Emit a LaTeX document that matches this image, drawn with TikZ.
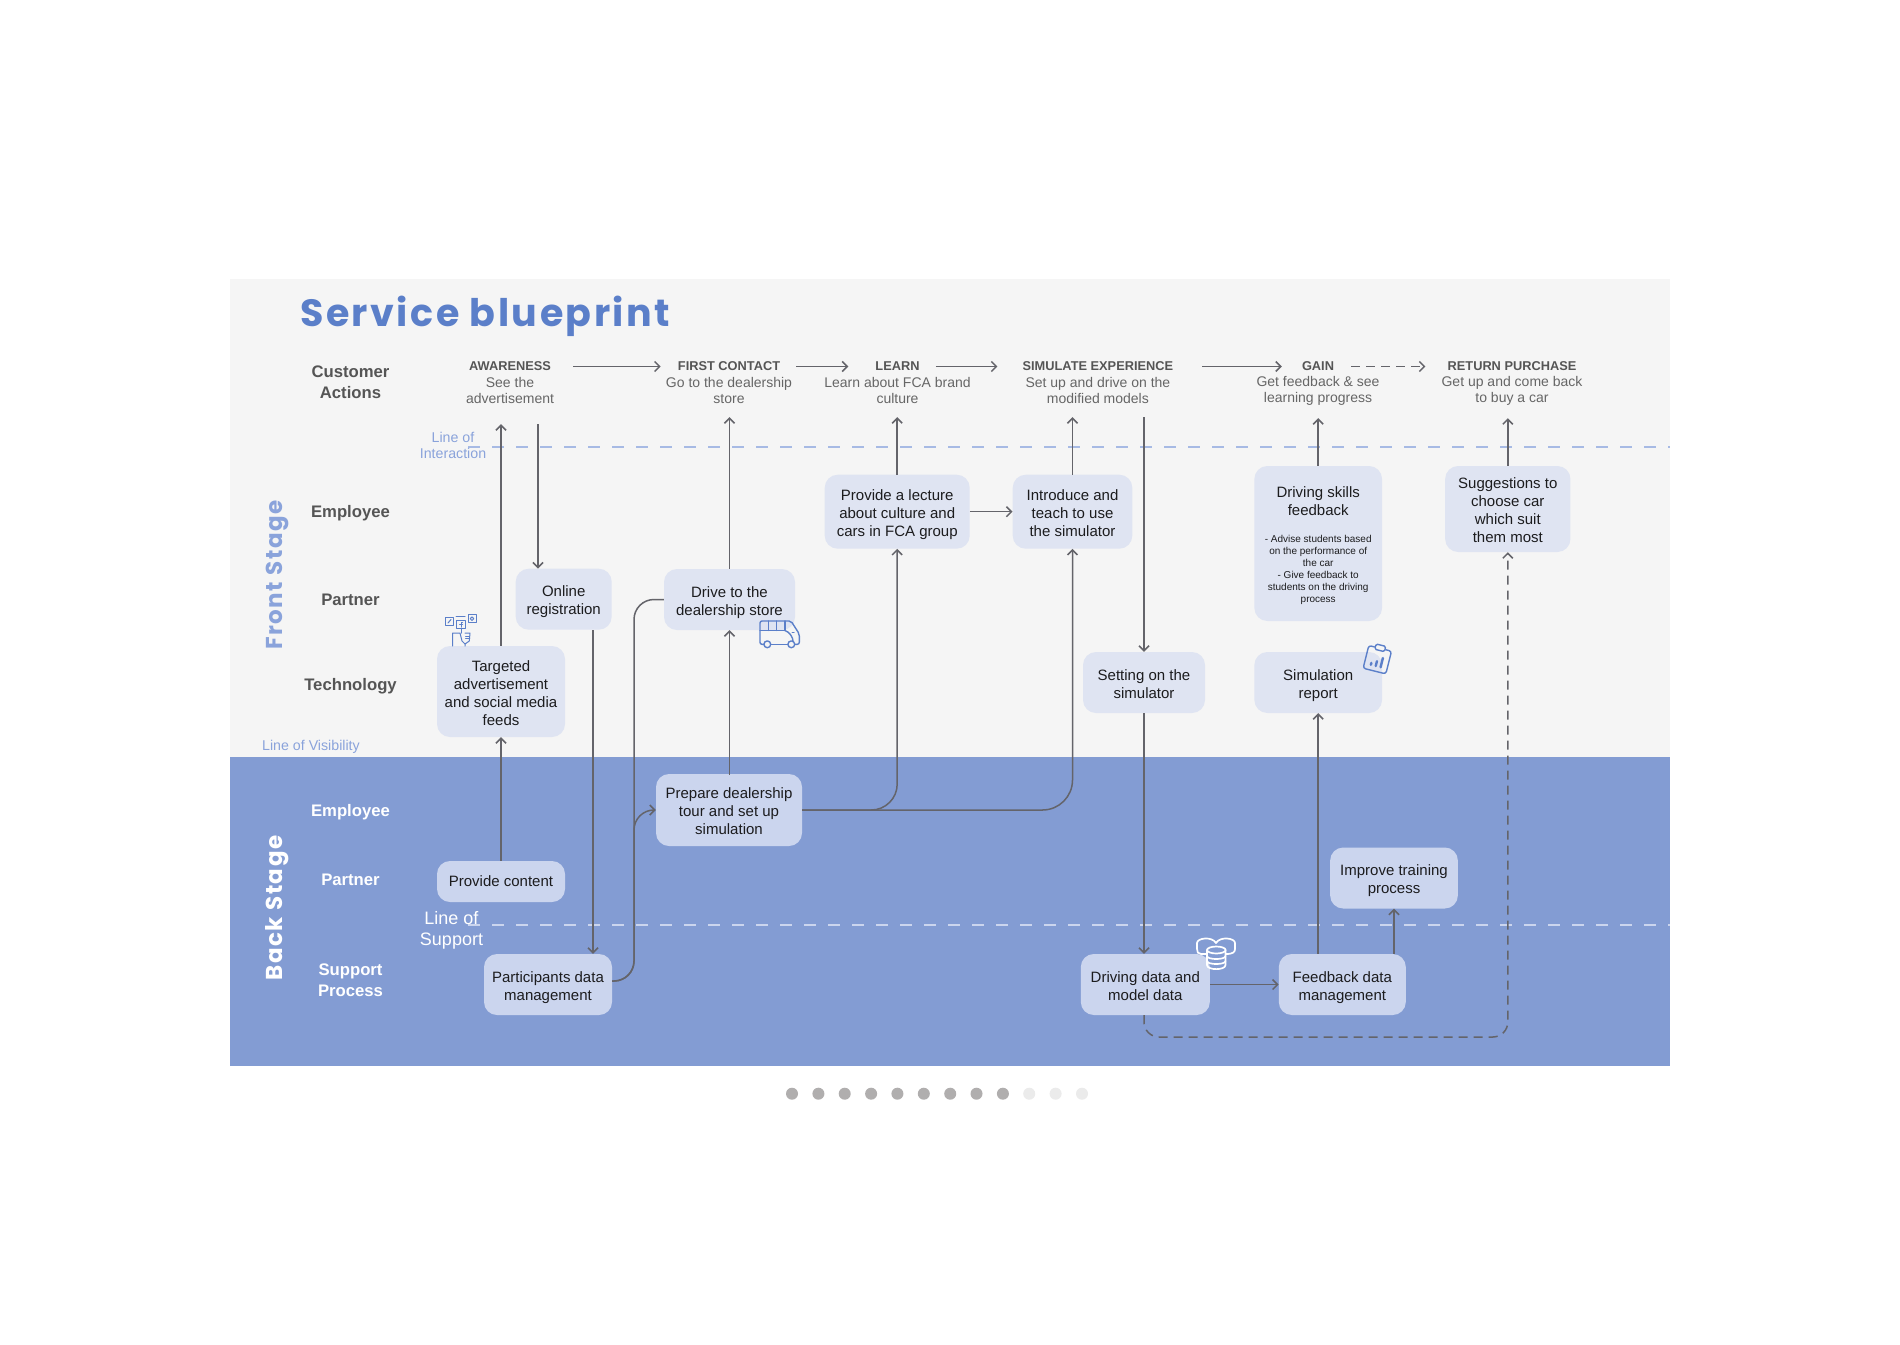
\documentclass[tikz,border=0pt]{standalone}
\usepackage{fontspec}
\usepackage{xcolor}
\usepackage{tikz}
\usetikzlibrary{positioning, arrows.meta, calc}
\setmainfont{Liberation Sans}
\newfontfamily\titlefont{Poppins}[LetterSpace=6.5]
\definecolor{bpTitle}{RGB}{91, 127, 201}
\definecolor{bpBack}{RGB}{131, 156, 211}
\definecolor{bpPanel}{RGB}{245, 245, 245}
\definecolor{bpCard}{RGB}{223, 228, 242}
\definecolor{bpBackCard}{RGB}{203, 213, 238}
\definecolor{bpLabel}{RGB}{138, 163, 219}
\definecolor{bpGray}{RGB}{85, 85, 85}
\definecolor{bpSub}{RGB}{102, 102, 102}
\definecolor{bpFlow}{RGB}{100, 100, 106}
\definecolor{bpInk}{RGB}{28, 28, 30}
\definecolor{bpDot}{RGB}{176, 174, 174}
\definecolor{bpDotLight}{RGB}{235, 235, 235}
\tikzset{
    card/.style={
        rectangle,
        rounded corners=13pt,
        fill=bpCard,
        text=bpInk,
        align=center,
        inner sep=0pt,
        font=\fontsize{15}{18}\selectfont
    },
    backcard/.style={
        card,
        fill=bpBackCard
    },
    lift/.style={
        execute at begin node={\rule{0pt}{#1pt}},
        execute at end node={\rule[-4pt]{0pt}{4pt}}
    },
    twolines/.style={lift=35},
    threelines/.style={lift=53},
    fourlines/.style={lift=71},
    lane/.style={
        align=center,
        inner sep=0pt,
        text=bpGray,
        font=\fontsize{16.7}{20.7}\selectfont\bfseries
    },
    backlane/.style={
        lane,
        text=white
    },
    stagetitle/.style={
        inner sep=0pt,
        text=bpGray,
        font=\fontsize{12.8}{16}\selectfont\bfseries
    },
    stagesub/.style={
        align=center,
        inner sep=0pt,
        minimum height=54pt,
        text=bpSub,
        font=\fontsize{14}{16}\selectfont
    },
    bandlabel/.style={
        inner sep=0pt,
        rotate=90,
        font=\fontsize{23}{26}\titlefont\bfseries
    },
    lineof/.style={
        align=center,
        inner sep=0pt,
        text=bpLabel,
        font=\fontsize{14.2}{16}\selectfont
    },
    flow/.style={
        ->,
        >={Straight Barb[length=5pt,width=10pt]},
        line width=1.5pt,
        color=bpFlow
    },
    plainflow/.style={
        line width=1.5pt,
        color=bpFlow
    },
    dashflow/.style={
        flow,
        dash pattern=on 9pt off 6pt
    },
    divider/.style={
        line width=1.5pt,
        dash pattern=on 12pt off 12pt
    },
    icon/.style={
        draw=bpTitle,
        line width=1.4pt,
        line cap=round,
        line join=round
    },
    whiteicon/.style={
        icon,
        draw=white,
        line width=1.7pt
    }
}
\begin{document}
\begin{tikzpicture}[x=1pt, y=-1pt]
    \useasboundingbox (0,0) rectangle (1900,1344);
    \fill[white] (0,0) rectangle (1900,1344);

    % Bands
    \fill[bpPanel] (230,279) rectangle (1670,757);
    \fill[bpBack] (230,757) rectangle (1670,1066);

    % Dividers
    \draw[divider, bpLabel!75!white] (468,447) -- (1670,447);
    \draw[divider, bpBackCard] (468,925) -- (1670,925);

    % Title
    \node[anchor=base west, inner sep=0pt, text=bpTitle, font=\fontsize{38}{44}\titlefont\bfseries] (title) at (300,326.5) {Service blueprint};
    \node[bandlabel, text=bpLabel] (frontstage) at (277,575) {Front Stage};
    \node[bandlabel, text=white] (backstage) at (277,908) {Back Stage};

    % Lanes
    \node[lane] (customer) at (350.5,382) {Customer\\Actions};
    \node[lane] (employee) at (350.5,513) {Employee};
    \node[lane] (partner) at (350.5,600) {Partner};
    \node[lane] (technology) at (350.5,686) {Technology};
    \node[backlane] (backemployee) at (350.5,812) {Employee};
    \node[backlane] (backpartner) at (350.5,880) {Partner};
    \node[backlane] (support) at (350.5,980.5) {Support\\Process};

    % Line labels
    \node[lineof] (interaction) at (453,445) {Line of\\Interaction};
    \node[lineof] (visibility) at (311,747) {Line of Visibility};
    \node[lineof, text=white, font=\fontsize{18}{21}\selectfont] (supportline) at (451.5,930.5) {Line of\\Support};

    % Stages
    \node[stagetitle] (awareness) at (510,366.5) {AWARENESS};
    \node[stagesub] (awarenesssub) at (510,390) {See the\\advertisement};
    \node[stagetitle] (firstcontact) at (729,366.5) {FIRST CONTACT};
    \node[stagesub] (firstcontactsub) at (729,390) {Go to the dealership\\store};
    \node[stagetitle] (learn) at (897.5,366.5) {LEARN};
    \node[stagesub] (learnsub) at (897.5,390) {Learn about FCA brand\\culture};
    \node[stagetitle] (simulate) at (1097.9,366.5) {SIMULATE EXPERIENCE};
    \node[stagesub] (simulatesub) at (1097.9,390) {Set up and drive on the\\modified models};
    \node[stagetitle] (gain) at (1318,366.5) {GAIN};
    \node[stagesub] (gainsub) at (1318,391) {Get feedback \& see\\learning progress};
    \node[stagetitle] (purchase) at (1512,366.5) {RETURN PURCHASE};
    \node[stagesub] (purchasesub) at (1512,391) {Get up and come back\\to buy a car};

    % Front stage cards
    \node[card, fourlines, minimum width=128pt, minimum height=91pt] (targeted) at (501,691.5) {Targeted\\advertisement\\and social media\\feeds};
    \node[card, twolines, minimum width=96pt, minimum height=61pt] (online) at (563.7,599.2) {Online\\registration};
    \node[card, twolines, minimum width=131pt, minimum height=61pt] (drive) at (729.5,599.5) {Drive to the\\dealership store};
    \node[card, threelines, minimum width=145pt, minimum height=74pt] (lecture) at (897.2,511.7) {Provide a lecture\\about culture and\\cars in FCA group};
    \node[card, threelines, minimum width=119.6pt, minimum height=74pt] (introduce) at (1072.5,511.7) {Introduce and\\teach to use\\the simulator};
    \node[card, align=flush center, text width=127.7pt, minimum height=155pt] (skills) at (1318.2,543.5) {\rule{0pt}{16pt}Driving skills\\feedback\\[15pt]{\fontsize{10}{12}\selectfont - Advise students based\\on the performance of\\the car\\- Give feedback to\\students on the driving\\process\par}};
    \node[card, fourlines, minimum width=125.3pt, minimum height=86pt] (suggest) at (1507.8,509) {Suggestions to\\choose car\\which suit\\them most};
    \node[card, twolines, minimum width=122pt, minimum height=61pt] (setting) at (1144,682.5) {Setting on the\\simulator};
    \node[card, twolines, minimum width=127.7pt, minimum height=61pt] (report) at (1318.2,682.5) {Simulation\\report};

    % Back stage cards
    \node[backcard, threelines, minimum width=146pt, minimum height=72pt] (prepare) at (729,810) {Prepare dealership\\tour and set up\\simulation};
    \node[backcard, minimum width=128pt, minimum height=41pt] (content) at (501,881.5) {Provide content};
    \node[backcard, twolines, minimum width=128pt, minimum height=61pt] (participants) at (548,984.5) {Participants data\\management};
    \node[backcard, twolines, minimum width=129pt, minimum height=61pt] (drivingdata) at (1145.3,984.5) {Driving data and\\model data};
    \node[backcard, twolines, minimum width=127pt, minimum height=61pt] (feedback) at (1342.3,984.5) {Feedback data\\management};
    \node[backcard, twolines, minimum width=127.7pt, minimum height=61pt] (improve) at (1394,878) {Improve training\\process};

    % Free ends
    \coordinate (signup) at (538,424);
    \coordinate (regdrop) at (593,630);
    \coordinate (databar) at (634,981);
    \coordinate (loopturn) at (1144,1037);

    % Stage flow
    \draw[flow, shorten <=22pt, shorten >=17pt] (awareness) -- (firstcontact);
    \draw[flow, shorten <=16pt, shorten >=27pt] (firstcontact) -- (learn);
    \draw[flow, shorten <=16pt, shorten >=25pt] (learn) -- (simulate);
    \draw[flow, shorten <=29pt, shorten >=20pt] (simulate) -- (gain);
    \draw[dashflow, shorten <=17pt, shorten >=22pt] (gain) -- (purchase);

    % Edges
    \draw[flow, shorten >=7pt] (targeted.north) -- (targeted.north |- awarenesssub.south);
    \draw[flow] (signup) -- (signup |- online.north);
    \draw[flow] (content.north) -- (targeted.south);
    \draw[flow] (regdrop) -- (regdrop |- participants.north);
    \draw[plainflow, rounded corners=20pt] ([yshift=3.5pt]participants.east) -- (databar) -- (databar |- drive.west) -- (drive.west);
    \draw[flow, rounded corners=20pt] ([yshift=3.5pt]participants.east) -- (databar) -- (databar |- prepare.west) -- (prepare.west);
    \draw[flow] (prepare.north) -- (prepare.north -| drive.south) -- (drive.south);
    \draw[flow] (drive.north) -- (drive.north |- firstcontactsub.south);
    \draw[flow, rounded corners=26pt] (prepare.east) -| (lecture.south);
    \draw[flow, rounded corners=30pt] (prepare.east) -| (introduce.south);
    \draw[flow] (lecture.north) -- (lecture.north |- learnsub.south);
    \draw[flow] (lecture.east) -- (introduce.west);
    \draw[flow] (introduce.north) -- (introduce.north |- simulatesub.south);
    \draw[flow] (setting.north |- simulatesub.south) -- (setting.north);
    \draw[flow] (setting.south) -- (setting.south |- drivingdata.north);
    \draw[flow] (drivingdata.east) -- (feedback.west);
    \draw[flow] (report.south |- feedback.north) -- (report.south);
    \draw[flow] (improve.south |- feedback.north) -- (improve.south);
    \draw[flow] (skills.north) -- (skills.north |- gainsub.south);
    \draw[flow] (suggest.north) -- (suggest.north |- purchasesub.south);
    \draw[dashflow, rounded corners=15pt] (setting.south |- drivingdata.south) -- (loopturn) -- (loopturn -| suggest.south) -- (suggest.south);

    % Social media icon
    \begin{scope}[shift={(430,600)}]
        \draw[icon, line width=1pt] (15.3,17.3) rectangle (23.3,25.3);
        \draw[icon, line width=1pt] (26.7,20) rectangle (35.3,28.3);
        \draw[icon, line width=1pt] (38,14.7) rectangle (46,22.7);
        \draw[icon, line width=1pt] (42,18.7) circle (1.8pt);
        \draw[icon, line width=1pt] (26,16.7) -- (35,16.7);
        \draw[icon, line width=1pt] (18,23) -- (21,19.5);
        \draw[icon, line width=1pt] (32.5,22) -- (31,22) -- (31,27) (29.5,24) -- (32.5,24);
        \draw[icon, line width=1pt] (22.7,46) -- (22.7,33) -- (30,33) -- (32,41) -- (35,44) -- (35,46);
        \draw[icon, line width=1pt] (35,44) -- (39.3,41) -- (40,33) -- (35,33);
        \draw[icon, line width=1pt] (35.5,36) -- (39.5,36) (35.5,38.5) -- (39.5,38.5);
        \draw[icon, line width=1pt] (31,28.3) -- (31,33);
    \end{scope}

    % Bus icon
    \begin{scope}[shift={(750,610)}]
        \draw[icon, rounded corners=2pt] (14,34.3) -- (10,34.3) -- (10,11) -- (41,11) -- (49.3,24) -- (49.3,34.3) -- (45,34.3);
        \draw[icon] (21,34.3) -- (37.5,34.3);
        \draw[icon] (17.3,34.3) circle (3.4pt);
        \draw[icon] (41.3,34.3) circle (3.4pt);
        \draw[icon] (10,20.5) -- (35,20.5);
        \draw[icon] (18.3,11) -- (18.3,20.5) (26.6,11) -- (26.6,20.5) (35,11) -- (35,20.5);
        \draw[icon] (35,20.5) .. controls (40,22) and (43,28) .. (43,31);
        \draw[icon, line width=1pt] (42,22.5) -- (44,22.5);
    \end{scope}

    % Report icon
    \begin{scope}[shift={(1377.3,659.7)}, rotate=-14]
        \draw[icon, rounded corners=2.5pt] (-6,-11.7) -- (-11.7,-11.7) -- (-11.7,11.7) -- (11.7,11.7) -- (11.7,-11.7) -- (6,-11.7);
        \draw[icon, rounded corners=1.5pt] (-5,-15) rectangle (5,-9.5);
        \draw[icon, line width=2.4pt] (-5,6.5) -- (-5,4.5);
        \draw[icon, line width=2.4pt] (0,6.5) -- (0,1.5);
        \draw[icon, line width=2.4pt] (5,6.5) -- (5,-3);
    \end{scope}

    % Data icon
    \begin{scope}[shift={(1190,930)}]
        \draw[whiteicon] (26.3,20) ellipse [x radius=9.3, y radius=3.5];
        \draw[whiteicon] (17,20) -- (17,35) .. controls (17,40.5) and (35.5,40.5) .. (35.5,35) -- (35.5,20);
        \draw[whiteicon] (17,26) .. controls (17,30) and (35.5,30) .. (35.5,26);
        \draw[whiteicon] (17,31) .. controls (17,35) and (35.5,35) .. (35.5,31);
        \draw[whiteicon] (16.5,24) -- (11,24) .. controls (8,24) and (7,22) .. (7,19) -- (7,13) .. controls (7,8) and (22,6) .. (26,13);
        \draw[whiteicon] (26,13) .. controls (30,6) and (45,8) .. (45,13) -- (45,19) .. controls (45,22) and (43,24) .. (36,24);
    \end{scope}

    % Pager dots
    \fill[bpDot] (792,1093.7) circle (6pt);
    \fill[bpDot] (818.4,1093.7) circle (6pt);
    \fill[bpDot] (844.7,1093.7) circle (6pt);
    \fill[bpDot] (871.1,1093.7) circle (6pt);
    \fill[bpDot] (897.4,1093.7) circle (6pt);
    \fill[bpDot] (923.8,1093.7) circle (6pt);
    \fill[bpDot] (950.2,1093.7) circle (6pt);
    \fill[bpDot] (976.5,1093.7) circle (6pt);
    \fill[bpDot] (1002.9,1093.7) circle (6pt);
    \fill[bpDotLight] (1029.2,1093.7) circle (6pt);
    \fill[bpDotLight] (1055.6,1093.7) circle (6pt);
    \fill[bpDotLight] (1082,1093.7) circle (6pt);
\end{tikzpicture}
\end{document}
